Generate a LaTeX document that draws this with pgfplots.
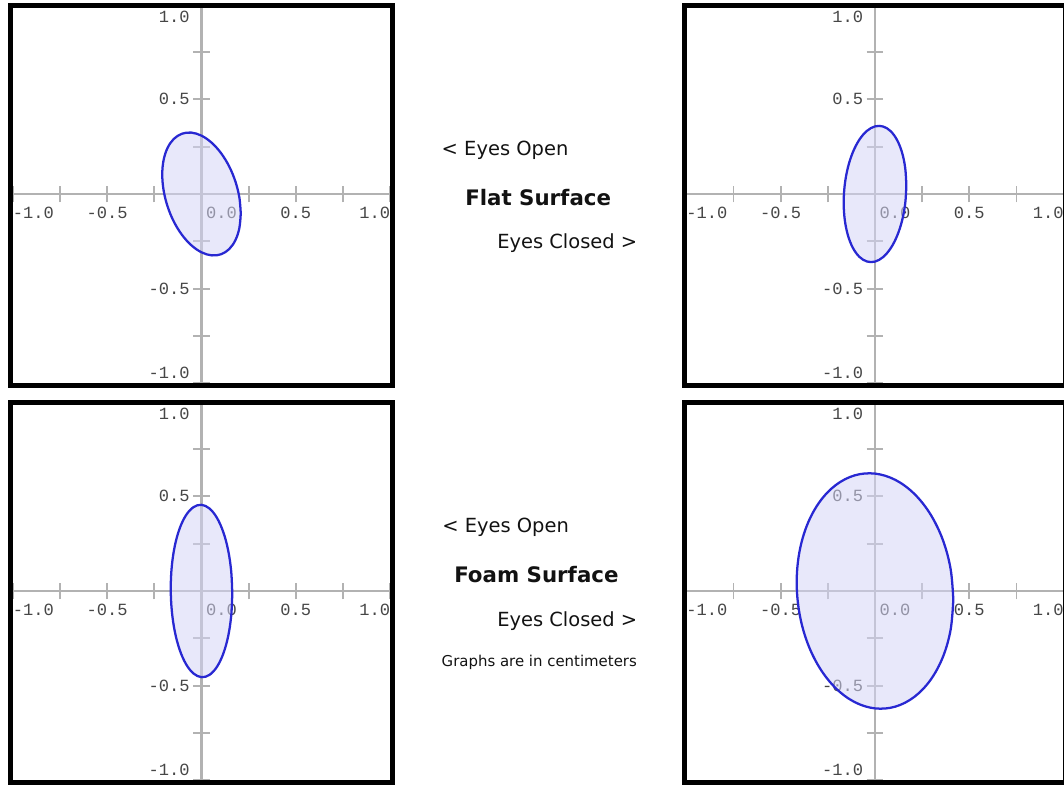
\documentclass[border=0pt]{standalone}
\usepackage{fontspec}
\setmainfont{DejaVu Sans}
\setmonofont{Liberation Mono}
\usepackage{pgfplots}
\pgfplotsset{compat=1.18}

\definecolor{axisgray}{RGB}{178,178,178}
\definecolor{labelgray}{RGB}{70,70,70}
\definecolor{ellblue}{RGB}{40,40,210}
\definecolor{ellfill}{RGB}{212,212,246}

\pgfplotsset{
  sway/.style={
    anchor=origin,
    scale only axis,
    width=283pt, height=284pt,
    xmin=-1, xmax=1, ymin=-1, ymax=1,
    set layers=standard,
    axis lines=center,
    axis line style={draw=axisgray, line width=1.7pt, -},
    hide obscured x ticks=false,
    hide obscured y ticks=false,
    xtick={-1,-0.75,-0.5,-0.25,0.25,0.5,0.75,1},
    ytick={-1,-0.75,-0.5,-0.25,0.25,0.5,0.75,1},
    xticklabels={\rlap{-1.0},{},-0.5,{},{},0.5,{},\llap{1.0}},
    yticklabels={\raisebox{3.75pt}[0pt][0pt]{-1.0},{},-0.5,{},{},0.5,{},\raisebox{-13.5pt}[0pt][0pt]{1.0}},
    extra x ticks={0},
    extra x tick labels={\rlap{\hspace{3.5pt}0.0}},
    extra x tick style={major tick length=0pt, xticklabel style={yshift=-6.3pt}},
    tick align=center,
    major tick length=12.5pt,
    every tick/.style={draw=axisgray, line width=1.3pt},
    ticklabel style={font=\ttfamily\fontsize{12.8}{13}\selectfont, text=labelgray},
    xticklabel style={anchor=north},
    yticklabel style={anchor=east, xshift=0.8pt},
    clip=false,
  },
  swayellipse/.style={draw=ellblue, line width=1.7pt, fill=ellfill, fill opacity=0.54, draw opacity=1, smooth, tension=0.6, mark=none},
}

\newcommand{\panelframe}{%
  \draw[black, line width=3.75pt]
    ([xshift=-1.7pt,yshift=-1.9pt]rel axis cs:0,0) rectangle
    ([xshift=1.7pt,yshift=-0.4pt]rel axis cs:1,1);}

\begin{document}
\begin{tikzpicture}

% Flat surface, eyes open
\begin{axis}[sway, at={(151.125pt,443.25pt)}]
\addplot[swayellipse] coordinates {
(0.208,-0.103) (0.2009,-0.0198) (0.1801,0.0648) (0.1471,0.1450)
(0.104,0.2152) (0.0538,0.2708) (0,0.308) (-0.0538,0.3242)
(-0.104,0.3182) (-0.1471,0.2906) (-0.1801,0.2432) (-0.2009,0.1792)
(-0.208,0.103) (-0.2009,0.0198) (-0.1801,-0.0648) (-0.1471,-0.1450)
(-0.104,-0.2152) (-0.0538,-0.2708) (0,-0.308) (0.0538,-0.3242)
(0.104,-0.3182) (0.1471,-0.2906) (0.1801,-0.2432) (0.2009,-0.1792)
(0.208,-0.103)
} -- cycle;
\panelframe
\end{axis}

% Flat surface, eyes closed
\begin{axis}[sway, at={(656.25pt,443.25pt)}]
\addplot[swayellipse] coordinates {
(0.166,0.045) (0.1603,0.1359) (0.1438,0.2175) (0.1174,0.2842)
(0.083,0.3317) (0.0430,0.3564) (0,0.357) (-0.0430,0.3332)
(-0.083,0.2867) (-0.1174,0.2206) (-0.1438,0.1395) (-0.1603,0.0489)
(-0.166,-0.045) (-0.1603,-0.1359) (-0.1438,-0.2175) (-0.1174,-0.2842)
(-0.083,-0.3317) (-0.0430,-0.3564) (0,-0.357) (0.0430,-0.3332)
(0.083,-0.2867) (0.1174,-0.2206) (0.1438,-0.1395) (0.1603,-0.0489)
(0.166,0.045)
} -- cycle;
\panelframe
\end{axis}

% Foam surface, eyes open
\begin{axis}[sway, at={(151.125pt,145.5pt)}]
\addplot[swayellipse] coordinates {
(0.163,-0.014) (0.1574,0.1043) (0.1412,0.2154) (0.1153,0.3118)
(0.0815,0.3870) (0.0422,0.4359) (0,0.455) (-0.0422,0.4431)
(-0.0815,0.401) (-0.1153,0.3316) (-0.1412,0.2396) (-0.1574,0.1313)
(-0.163,0.014) (-0.1574,-0.1043) (-0.1412,-0.2154) (-0.1153,-0.3118)
(-0.0815,-0.3870) (-0.0422,-0.4359) (0,-0.455) (0.0422,-0.4431)
(0.0815,-0.401) (0.1153,-0.3316) (0.1412,-0.2396) (0.1574,-0.1313)
(0.163,-0.014)
} -- cycle;
\panelframe
\end{axis}

% Foam surface, eyes closed
\begin{axis}[sway, at={(656.25pt,145.5pt)}]
\addplot[swayellipse] coordinates {
(0.415,-0.046) (0.4008,0.1161) (0.3594,0.2702) (0.2934,0.4059)
(0.2075,0.5139) (0.1074,0.5870) (0,0.620) (-0.1074,0.6108)
(-0.2075,0.5599) (-0.2934,0.4709) (-0.3594,0.3498) (-0.4008,0.2049)
(-0.415,0.046) (-0.4008,-0.1161) (-0.3594,-0.2702) (-0.2934,-0.4059)
(-0.2075,-0.5139) (-0.1074,-0.5870) (0,-0.620) (0.1074,-0.6108)
(0.2075,-0.5599) (0.2934,-0.4709) (0.3594,-0.3498) (0.4008,-0.2049)
(0.415,-0.046)
} -- cycle;
\panelframe
\end{axis}

% captions between the panels
\begin{scope}[every node/.style={inner sep=0pt, text=black!93}]
\node[anchor=base west, font=\fontsize{14.6}{16}\selectfont] at (331.1pt,471.75pt) {< Eyes Open};
\node[anchor=base west, font=\bfseries\fontsize{16}{18}\selectfont] at (348.75pt,434.25pt) {Flat Surface};
\node[anchor=base west, font=\fontsize{14.6}{16}\selectfont] at (372.75pt,402pt) {Eyes Closed >};
\node[anchor=base west, font=\fontsize{14.6}{16}\selectfont] at (331.5pt,189pt) {< Eyes Open};
\node[anchor=base west, font=\bfseries\fontsize{16}{18}\selectfont] at (340.5pt,151.5pt) {Foam Surface};
\node[anchor=base west, font=\fontsize{14.6}{16}\selectfont] at (372.75pt,118.5pt) {Eyes Closed >};
\node[anchor=base west, font=\fontsize{11.2}{13}\selectfont] at (331.1pt,88.9pt) {Graphs are in centimeters};
\end{scope}

% page area
\pgfresetboundingbox
\useasboundingbox (0,0) rectangle (798pt,588.75pt);
\end{tikzpicture}
\end{document}
